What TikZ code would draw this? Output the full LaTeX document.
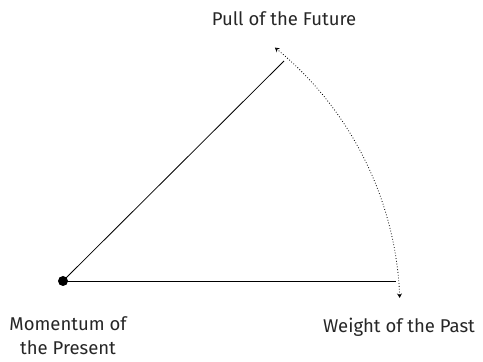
\documentclass[tikz,border=0pt]{standalone}
\usepackage{fontspec}
\setmainfont{Fira Sans}
\usetikzlibrary{arrows.meta}
\begin{document}
\begin{tikzpicture}[x=1pt,y=1pt,
  lbl/.style={font=\fontsize{18.5}{24}\selectfont, text=black!85, align=center, inner sep=0pt},
  ray/.style={draw=black, line width=0.8pt},
  sweep/.style={draw=black, dotted, line width=0.8pt, {Stealth[open,length=4.5pt,width=5pt]}-{Stealth[open,length=4.5pt,width=5pt]}}]
\useasboundingbox (0,0) rectangle (483,362);
\node[circle, fill=black, inner sep=0pt, minimum size=10pt] (p) at (63,81) {};
\coordinate (h) at (396,81);
\coordinate (d) at (284,301);
\draw[ray] (p.center) -- (h);
\draw[ray] (p.center) -- (d);
\coordinate (a0) at (399.7,64.05);
\draw[sweep] (a0) arc[start angle=2.2, end angle=50.8, radius=340];
\node[lbl] (fut) at (284,343) {Pull of the Future};
\node[lbl] (pres) at (68,26) {Momentum of\\the Present};
\node[lbl] (past) at (399,35) {Weight of the Past};
\end{tikzpicture}
\end{document}
